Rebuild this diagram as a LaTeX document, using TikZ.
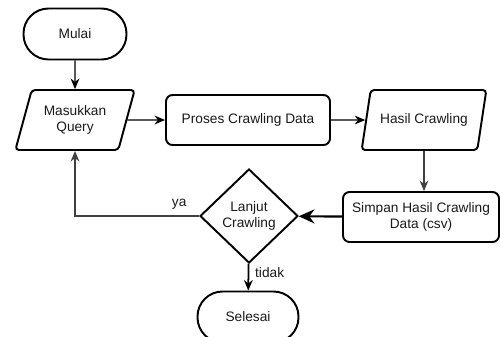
\documentclass[tikz,border=0pt]{standalone}
\usepackage{fontspec}
\setmainfont{Liberation Sans}
\usetikzlibrary{shapes.geometric,arrows.meta}
\tikzset{
  teks/.style={font=\fontsize{7.8}{9.2}\selectfont,text=black!90,align=center},
  terminal/.style={teks,draw,line width=1.1pt,rounded corners=0.5cm,minimum width=2.06cm,minimum height=1.02cm},
  proses/.style={teks,draw,line width=1.1pt,rounded corners=0.13cm,minimum height=1cm},
  io/.style={teks,draw,line width=1.1pt,trapezium,trapezium left angle=71,trapezium right angle=109,
    trapezium stretches=true,minimum height=1.2cm,rounded corners=2pt},
  keputusan/.style={teks,draw,line width=1.1pt,diamond,minimum width=1.96cm,minimum height=1.88cm,inner sep=1pt},
  panah/.style={-{Stealth[length=6pt,width=5pt]},line width=0.6pt},
}
\begin{document}
\begin{tikzpicture}[x=0.02cm,y=-0.02cm]
      \useasboundingbox (0,0) rectangle (500,336);
      \node[terminal] (mulai) at (75,34) {Mulai};
      \node[io,minimum width=2.4cm] (masukkan) at (75,120) {Masukkan\\Query};
      \node[proses,minimum width=3.28cm] (proses) at (248,120) {Proses Crawling Data};
      \node[io,minimum width=2.5cm] (hasil) at (424,120) {Hasil Crawling};
      \node[proses,minimum width=3.12cm] (simpan) at (421,217) {Simpan Hasil Crawling\\Data (csv)};
      \node[keputusan] (lanjut) at (249,216) {Lanjut\\Crawling};
      \node[terminal,minimum width=2.02cm] (selesai) at (248,317) {Selesai};
      % alur utama
      \draw[panah] (mulai) -- (masukkan);
      \draw[panah] (masukkan) -- (proses);
      \draw[panah] (proses) -- (hasil);
      \draw[panah,black!75] (hasil.south) -- (hasil.south |- simpan.north);
      \draw[-{Stealth[length=9pt,width=8pt]},line width=1.2pt] (simpan) -- (lanjut);
      % percabangan
      \draw[panah,black!75,line width=0.8pt] (lanjut.west) -| (masukkan.south)
        node[teks,pos=0.08,above] {ya};
      \draw[panah,line width=1pt] (lanjut) -- (selesai)
        node[teks,pos=0.35,right] {tidak};
\end{tikzpicture}
\end{document}
